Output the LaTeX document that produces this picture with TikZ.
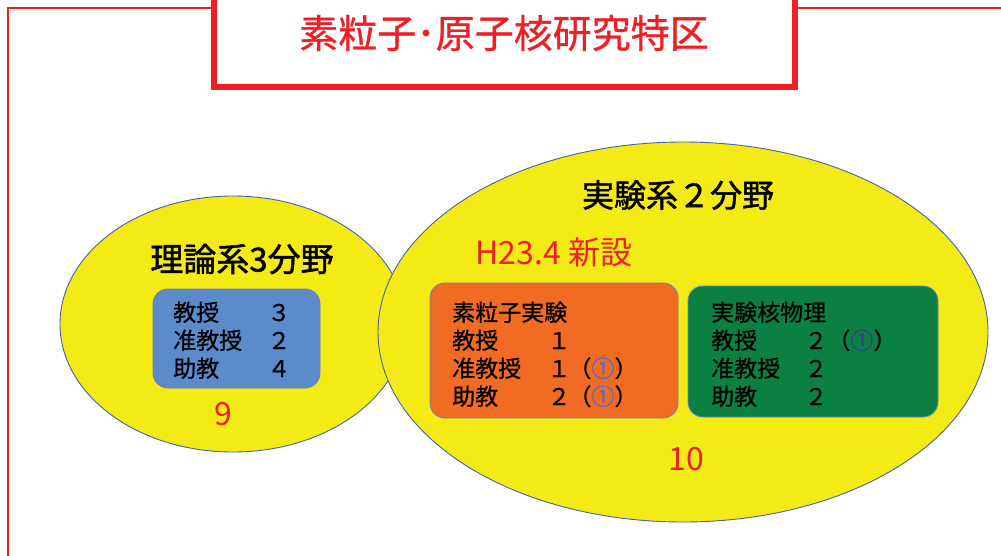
\documentclass[tikz,border=0pt]{standalone}
\usepackage{fontspec}
\setmainfont{Noto Sans CJK JP}
\newfontfamily\headfont{Noto Sans CJK JP}[FakeBold=1.4]
\newfontfamily\rowfont{Noto Sans CJK JP}[FakeBold=0.8]
\usetikzlibrary{shapes.geometric}
\definecolor{tred}{HTML}{EE2026}
\definecolor{eyellow}{HTML}{F5EB14}
\definecolor{eborder}{HTML}{4563AC}
\definecolor{bblue}{HTML}{5B8BCB}
\definecolor{borange}{HTML}{F26B22}
\definecolor{bgreen}{HTML}{0A8043}
\definecolor{cblue}{HTML}{4A6FD0}
\definecolor{cnavy}{HTML}{2E3F8C}
\tikzset{
  oval/.style={ellipse, fill=eyellow, draw=eborder, line width=0.9pt, inner sep=0pt},
  panel/.style={rounded corners=15pt, draw=eborder!80!white, line width=0.9pt},
  head/.style={font=\headfont\fontsize{33}{36}\selectfont, text=black, inner sep=0pt},
  redlbl/.style={font=\fontsize{32}{34}\selectfont, text=tred, inner sep=0pt},
  row/.style={font=\rowfont\fontsize{23}{25}\selectfont, text=black, inner sep=0pt, anchor=base west},
  num/.style={font=\rowfont\fontsize{23}{25}\selectfont, text=black, inner sep=0pt, anchor=base},
}
\begin{document}
\begin{tikzpicture}[x=1pt,y=-1pt]
\useasboundingbox (0,0) rectangle (1001,555);
\clip (0,0) rectangle (1001,555);
\fill[white] (0,0) rectangle (1001,555);
% outer thin frame
\draw[tred, line width=1.4pt] (8,8) rectangle (1020,580);
% title box
\draw[tred, line width=6pt, fill=white] (214,-20) rectangle (795,87);
\node[font=\rowfont\fontsize{39}{41}\selectfont, text=tred, inner sep=0pt] (title) at (504,33) {素粒子･原子核研究特区};
% ellipses
\node[oval, minimum width=346pt, minimum height=256pt] (theory) at (233,324) {};
\node[oval, minimum width=610pt, minimum height=380pt] (exper) at (683,332) {};
\node[head] (theorylbl) at (242,259) {理論系3分野};
\node[head, font=\headfont\fontsize{32}{35}\selectfont] (experlbl) at (678,195) {実験系２分野};
\node[redlbl] (new) at (554,252) {H23.4 新設};
\node[redlbl] (nine) at (223,414) {9};
\node[redlbl] (ten) at (686,459) {10};
% blue box
\draw[panel, fill=bblue] (153,289) rectangle (320,388);
\node[row] (b1) at (173,321) {教授};
\node[row] (b2) at (173,349) {准教授};
\node[row] (b3) at (173,377) {助教};
\node[num] (b1n) at (279,321) {３};
\node[num] (b2n) at (279,349) {２};
\node[num] (b3n) at (279,377) {４};
% orange box
\draw[panel, fill=borange] (430,283) rectangle (678,418);
\node[row] (o0) at (452,321) {素粒子実験};
\node[row] (o1) at (452,349) {教授};
\node[row] (o2) at (452,377) {准教授};
\node[row] (o3) at (452,405) {助教};
\node[num] (o1n) at (559,349) {１};
\node[num] (o2n) at (559,377) {１};
\node[num] (o3n) at (559,405) {２};
\node[num] (o2c) at (603,377) {（\textcolor{cblue}{①}）};
\node[num] (o3c) at (603,405) {（\textcolor{cblue}{①}）};
% green box
\draw[panel, fill=bgreen] (688,286) rectangle (938,417);
\node[row] (g0) at (711,321) {実験核物理};
\node[row] (g1) at (711,349) {教授};
\node[row] (g2) at (711,377) {准教授};
\node[row] (g3) at (711,405) {助教};
\node[num] (g1n) at (816,349) {２};
\node[num] (g2n) at (816,377) {２};
\node[num] (g3n) at (816,405) {２};
\node[num] (g1c) at (862,349) {（\textcolor{cnavy}{①}）};
\end{tikzpicture}
\end{document}
